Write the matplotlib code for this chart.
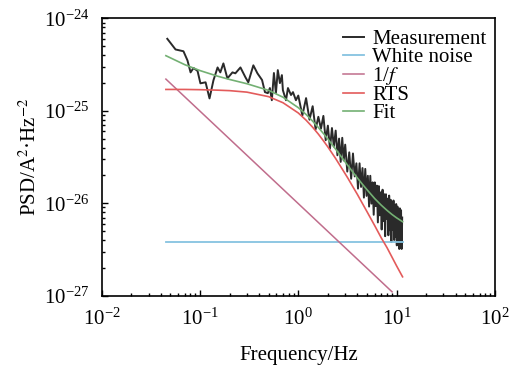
import numpy as np
import matplotlib
matplotlib.use("Agg")
import matplotlib.pyplot as plt
from matplotlib.ticker import LogLocator, NullFormatter

meas_f = [0.0465, 0.0564, 0.0679, 0.0746, 0.0802, 0.0859, 0.0944, 0.101, 0.114, 0.125,
          0.137, 0.151, 0.161, 0.173, 0.190, 0.214, 0.229, 0.258, 0.290, 0.310,
          0.349, 0.384, 0.428, 0.458, 0.490, 0.514, 0.538, 0.565, 0.592, 0.619,
          0.650, 0.681, 0.697, 0.750, 0.785, 0.843, 0.883, 0.946,
          1.0, 1.1, 1.2, 1.3, 1.4, 1.5, 1.6, 1.7, 1.8, 1.9,
          2.0, 2.1, 2.2, 2.3, 2.4, 2.5, 2.6, 2.7, 2.8, 2.9,
          3.0, 3.15, 3.3, 3.45, 3.6, 3.75, 3.9, 4.05, 4.2, 4.35,
          4.5, 4.65, 4.8, 4.95, 5.1, 5.25, 5.4, 5.55, 5.7, 5.85,
          6.0, 6.15, 6.3, 6.45, 6.6, 6.75, 6.9, 7.05, 7.2, 7.35,
          7.5, 7.65, 7.8, 7.95, 8.1, 8.25, 8.4, 8.55, 8.7, 8.85,
          9.0, 9.15, 9.3, 9.45, 9.6, 9.75, 9.9, 10.05, 10.2, 10.35,
          10.5, 10.65, 10.8, 10.95, 11.1, 11.25, 11.4]
meas_psd = [6.0e-25, 4.6e-25, 4.4e-25, 3.5e-25, 2.6e-25, 2.9e-25, 2.7e-25, 1.98e-25, 2.03e-25, 1.36e-25,
            2.13e-25, 2.94e-25, 2.6e-25, 3.25e-25, 2.24e-25, 2.6e-25, 2.54e-25, 2.94e-25, 2.3e-25, 2.03e-25,
            3.1e-25, 2.54e-25, 2.15e-25, 1.59e-25, 1.55e-25, 1.76e-25, 1.30e-25, 2.56e-25, 1.55e-25, 2.75e-25,
            1.99e-25, 2.43e-25, 1.67e-25, 1.30e-25, 1.76e-25, 1.48e-25, 1.59e-25, 1.30e-25,
            1.46e-25, 8.9e-26, 1.37e-25, 8.0e-26, 1.12e-25, 6.3e-26, 8.6e-26, 6.4e-26, 8.8e-26, 4.8e-26,
            6.9e-26, 3.9e-26, 6.5e-26, 4.1e-26, 6.1e-26, 3.3e-26, 5.0e-26, 2.8e-26, 5.1e-26, 2.9e-26,
            4.3e-26, 2.2e-26, 3.55e-26, 1.84e-26, 3.45e-26, 1.95e-26, 2.7e-26, 1.44e-26, 2.7e-26, 1.5e-26,
            2.4e-26, 1.15e-26, 2.35e-26, 1.2e-26, 1.98e-26, 9.2e-27, 1.98e-26, 9.9e-27, 1.68e-26, 7.5e-27,
            1.68e-26, 9.3e-27, 1.55e-26, 6.2e-27, 1.53e-26, 7.4e-27, 1.31e-26, 5.2e-27, 1.4e-26, 6.4e-27,
            1.25e-26, 4.4e-27, 1.25e-26, 6.8e-27, 1.12e-26, 4.5e-27, 1.21e-26, 5.1e-27, 1.09e-26, 3.8e-27,
            1.02e-26, 5.2e-27, 1.07e-26, 4.0e-27, 9.4e-27, 4.3e-27, 9.8e-27, 3.5e-27, 9.2e-27, 4.4e-27,
            8.7e-27, 3.2e-27, 8.8e-27, 3.6e-27, 8.4e-27, 3.2e-27, 7.0e-27]

# model components
white_f = [0.045, 11.5]
white_psd = [3.85e-27, 3.85e-27]

flicker_f = [0.045, 9.0]
flicker_psd = [2.2e-25, 1.1e-27]

curve_f = [0.045, 0.07, 0.1, 0.15, 0.2, 0.3, 0.5, 0.7, 1.0, 1.2, 1.4, 1.6, 1.8, 2.0,
           2.4, 2.8, 3.2, 3.6, 4.0, 4.5, 5.0, 6.0, 7.0, 8.0, 9.0, 10.0, 11.5]
rts_psd = [1.70e-25, 1.70e-25, 1.69e-25, 1.67e-25, 1.65e-25, 1.59e-25, 1.42e-25, 1.22e-25,
           9.46e-26, 7.91e-26, 6.63e-26, 5.59e-26, 4.74e-26, 4.06e-26, 3.04e-26, 2.34e-26,
           1.86e-26, 1.50e-26, 1.24e-26, 9.9e-27, 8.1e-27, 5.7e-27, 4.2e-27, 3.3e-27,
           2.6e-27, 2.1e-27, 1.6e-27]
fit_psd = [3.94e-25, 3.15e-25, 2.72e-25, 2.37e-25, 2.18e-25, 1.96e-25, 1.66e-25, 1.40e-25,
           1.08e-25, 9.12e-26, 7.72e-26, 6.59e-26, 5.68e-26, 4.94e-26, 3.84e-26, 3.08e-26,
           2.55e-26, 2.16e-26, 1.87e-26, 1.60e-26, 1.40e-26, 1.12e-26, 9.5e-27, 8.36e-27,
           7.54e-27, 6.95e-27, 6.31e-27]

xticks = [1e-2, 1e-1, 1e0, 1e1, 1e2]
yticks = [1e-27, 1e-26, 1e-25, 1e-24]

plt.rcParams["font.family"] = ["Liberation Serif", "DejaVu Serif"]
plt.rcParams["mathtext.fontset"] = "stix"
plt.rcParams["font.size"] = 15

fig = plt.figure(figsize=(5.12, 3.65), dpi=100)
ax = fig.add_axes([0.1986, 0.1899, 0.768, 0.76])

ax.plot(meas_f, meas_psd, color="#2a2a2a", lw=1.4, label="Measurement")
ax.plot(white_f, white_psd, color="#86c3e0", lw=1.3, label="White noise")
ax.plot(flicker_f, flicker_psd, color="#c06d8c", lw=1.1, label="1/$f$")
ax.plot(curve_f, rts_psd, color="#e35b5b", lw=1.2, label="RTS")
ax.plot(curve_f, fit_psd, color="#73b073", lw=1.2, label="Fit")

ax.set_xscale("log")
ax.set_yscale("log")
ax.set_xticks(xticks)
ax.set_yticks(yticks)
ax.xaxis.set_minor_locator(LogLocator(base=10, subs=np.arange(2, 10), numticks=20))
ax.yaxis.set_minor_locator(LogLocator(base=10, subs=np.arange(2, 10), numticks=20))
ax.xaxis.set_minor_formatter(NullFormatter())
ax.yaxis.set_minor_formatter(NullFormatter())
ax.set_xlim(1e-2, 1e2)
ax.set_ylim(1e-27, 1e-24)

ax.tick_params(which="both", direction="in", top=False, right=False, width=1.0)
ax.tick_params(which="major", length=4.5, pad=9, labelsize=15)
ax.tick_params(which="minor", length=2.5)
for s in ax.spines.values():
    s.set_linewidth(1.2)

ax.set_xlabel("Frequency/Hz", fontsize=15, labelpad=12)
ax.set_ylabel("PSD/A$^2$·Hz$^{-2}$", fontsize=15, labelpad=2)

leg = ax.legend(loc="upper right", frameon=False, fontsize=15, handlelength=1.0,
                handletextpad=0.4, labelspacing=-0.08, borderaxespad=0.0,
                bbox_to_anchor=(1.0, 0.99))

fig.savefig("out.png", dpi=100)
